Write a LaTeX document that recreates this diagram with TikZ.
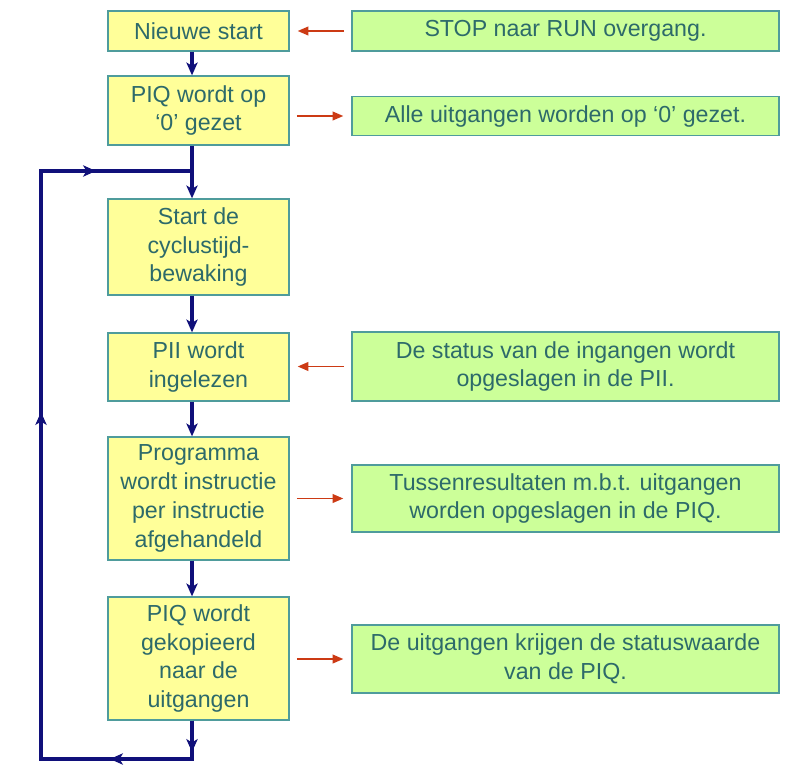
\documentclass[tikz,border=0pt]{standalone}
\usepackage{fontspec}
\setmainfont{Liberation Sans}
\usetikzlibrary{arrows.meta}
\definecolor{geel}{HTML}{FFFF99}
\definecolor{groen}{HTML}{CCFF99}
\definecolor{rand}{HTML}{4F9C9C}
\definecolor{tekst}{HTML}{2D6A6A}
\definecolor{navy}{HTML}{10107A}
\definecolor{oranje}{HTML}{CC3A14}
\tikzset{
    > = {Stealth[length = 3.2mm, width = 2.8mm, inset = 0.8mm]},
    stap/.style = {draw = rand, fill = geel, text = tekst, line width = 0.9pt,
        align = center, minimum width = 4.525cm, inner sep = 2pt,
        font = \fontsize{16.5}{20.5}\selectfont},
    info/.style = {stap, fill = groen, minimum width = 10.675cm},
    flow/.style = {->, draw = navy, line width = 2.5pt},
    lus/.style = {draw = navy, line width = 2.5pt},
    hint/.style = {-{Triangle[length = 2.7mm, width = 2.2mm]}, draw = oranje,
        line width = 1.2pt, shorten < = 0.18cm, shorten > = 0.2cm}
}

\begin{document}
\begin{tikzpicture}[x = 0.025cm, y = -0.025cm]
    \useasboundingbox (0, 0) rectangle (793, 769);

    % stappen links
    \node[stap, minimum height = 1cm] (nieuw) at (198.5, 31) {Nieuwe start};
    \node[stap, minimum height = 1.725cm] (piq) at (198.5, 110.5) {PIQ wordt op\\‘0’ gezet};
    \node[stap, minimum height = 2.4cm] (cyclus) at (198.5, 247) {Start de\\cyclustijd-\\bewaking};
    \node[stap, minimum height = 1.7cm] (pii) at (198.5, 367) {PII wordt\\ingelezen};
    \node[stap, minimum height = 3.075cm] (prog) at (198.5, 498.5) {Programma\\wordt instructie\\per instructie\\afgehandeld};
    \node[stap, minimum height = 3.075cm] (kopie) at (198.5, 658.5) {PIQ wordt\\gekopieerd\\naar de\\uitgangen};

    % uitleg rechts
    \node[info, minimum height = 1cm] (stop) at (565.5, 31) {STOP naar RUN overgang.};
    \node[info, minimum height = 0.975cm] (alle) at (565.5, 116) {Alle uitgangen worden op ‘0’ gezet.};
    \node[info, minimum height = 1.725cm] (status) at (565.5, 366.5) {De status van de ingangen wordt\\opgeslagen in de PII.};
    \node[info, minimum height = 1.675cm] (tussen) at (565.5, 498.5) {Tussenresultaten m.b.t. uitgangen\\worden opgeslagen in de PIQ.};
    \node[info, minimum height = 1.7cm] (waarde) at (565.5, 659) {De uitgangen krijgen de statuswaarde\\van de PIQ.};

    \coordinate (as) at (192, 171);
    \coordinate (lo) at (41, 759);

    % hoofdstroom
    \draw[flow] (nieuw.south -| as) -- (piq.north -| as);
    \draw[flow] (piq.south -| as) -- (cyclus.north -| as);
    \draw[flow] (cyclus.south -| as) -- (pii.north -| as);
    \draw[flow] (pii.south -| as) -- (prog.north -| as);
    \draw[flow] (prog.south -| as) -- (kopie.north -| as);

    % terugkoppeling
    \draw[lus] (kopie.south -| as) |- (lo) |- (as);
    \draw[flow] (kopie.south -| as) -- (192, 752);
    \draw[flow] (lo -| as) -- (110, 759);
    \draw[flow] (lo) -- (41, 412);
    \draw[flow] (as -| lo) -- (96, 171);

    % koppeling met uitleg
    \draw[hint] (stop.west) -- (stop.west -| nieuw.east);
    \draw[hint] (piq.east |- alle.west) -- (alle.west);
    \draw[hint] (status.west) -- (status.west -| pii.east);
    \draw[hint] (prog.east |- tussen.west) -- (tussen.west);
    \draw[hint] (kopie.east |- waarde.west) -- (waarde.west);
\end{tikzpicture}
\end{document}
